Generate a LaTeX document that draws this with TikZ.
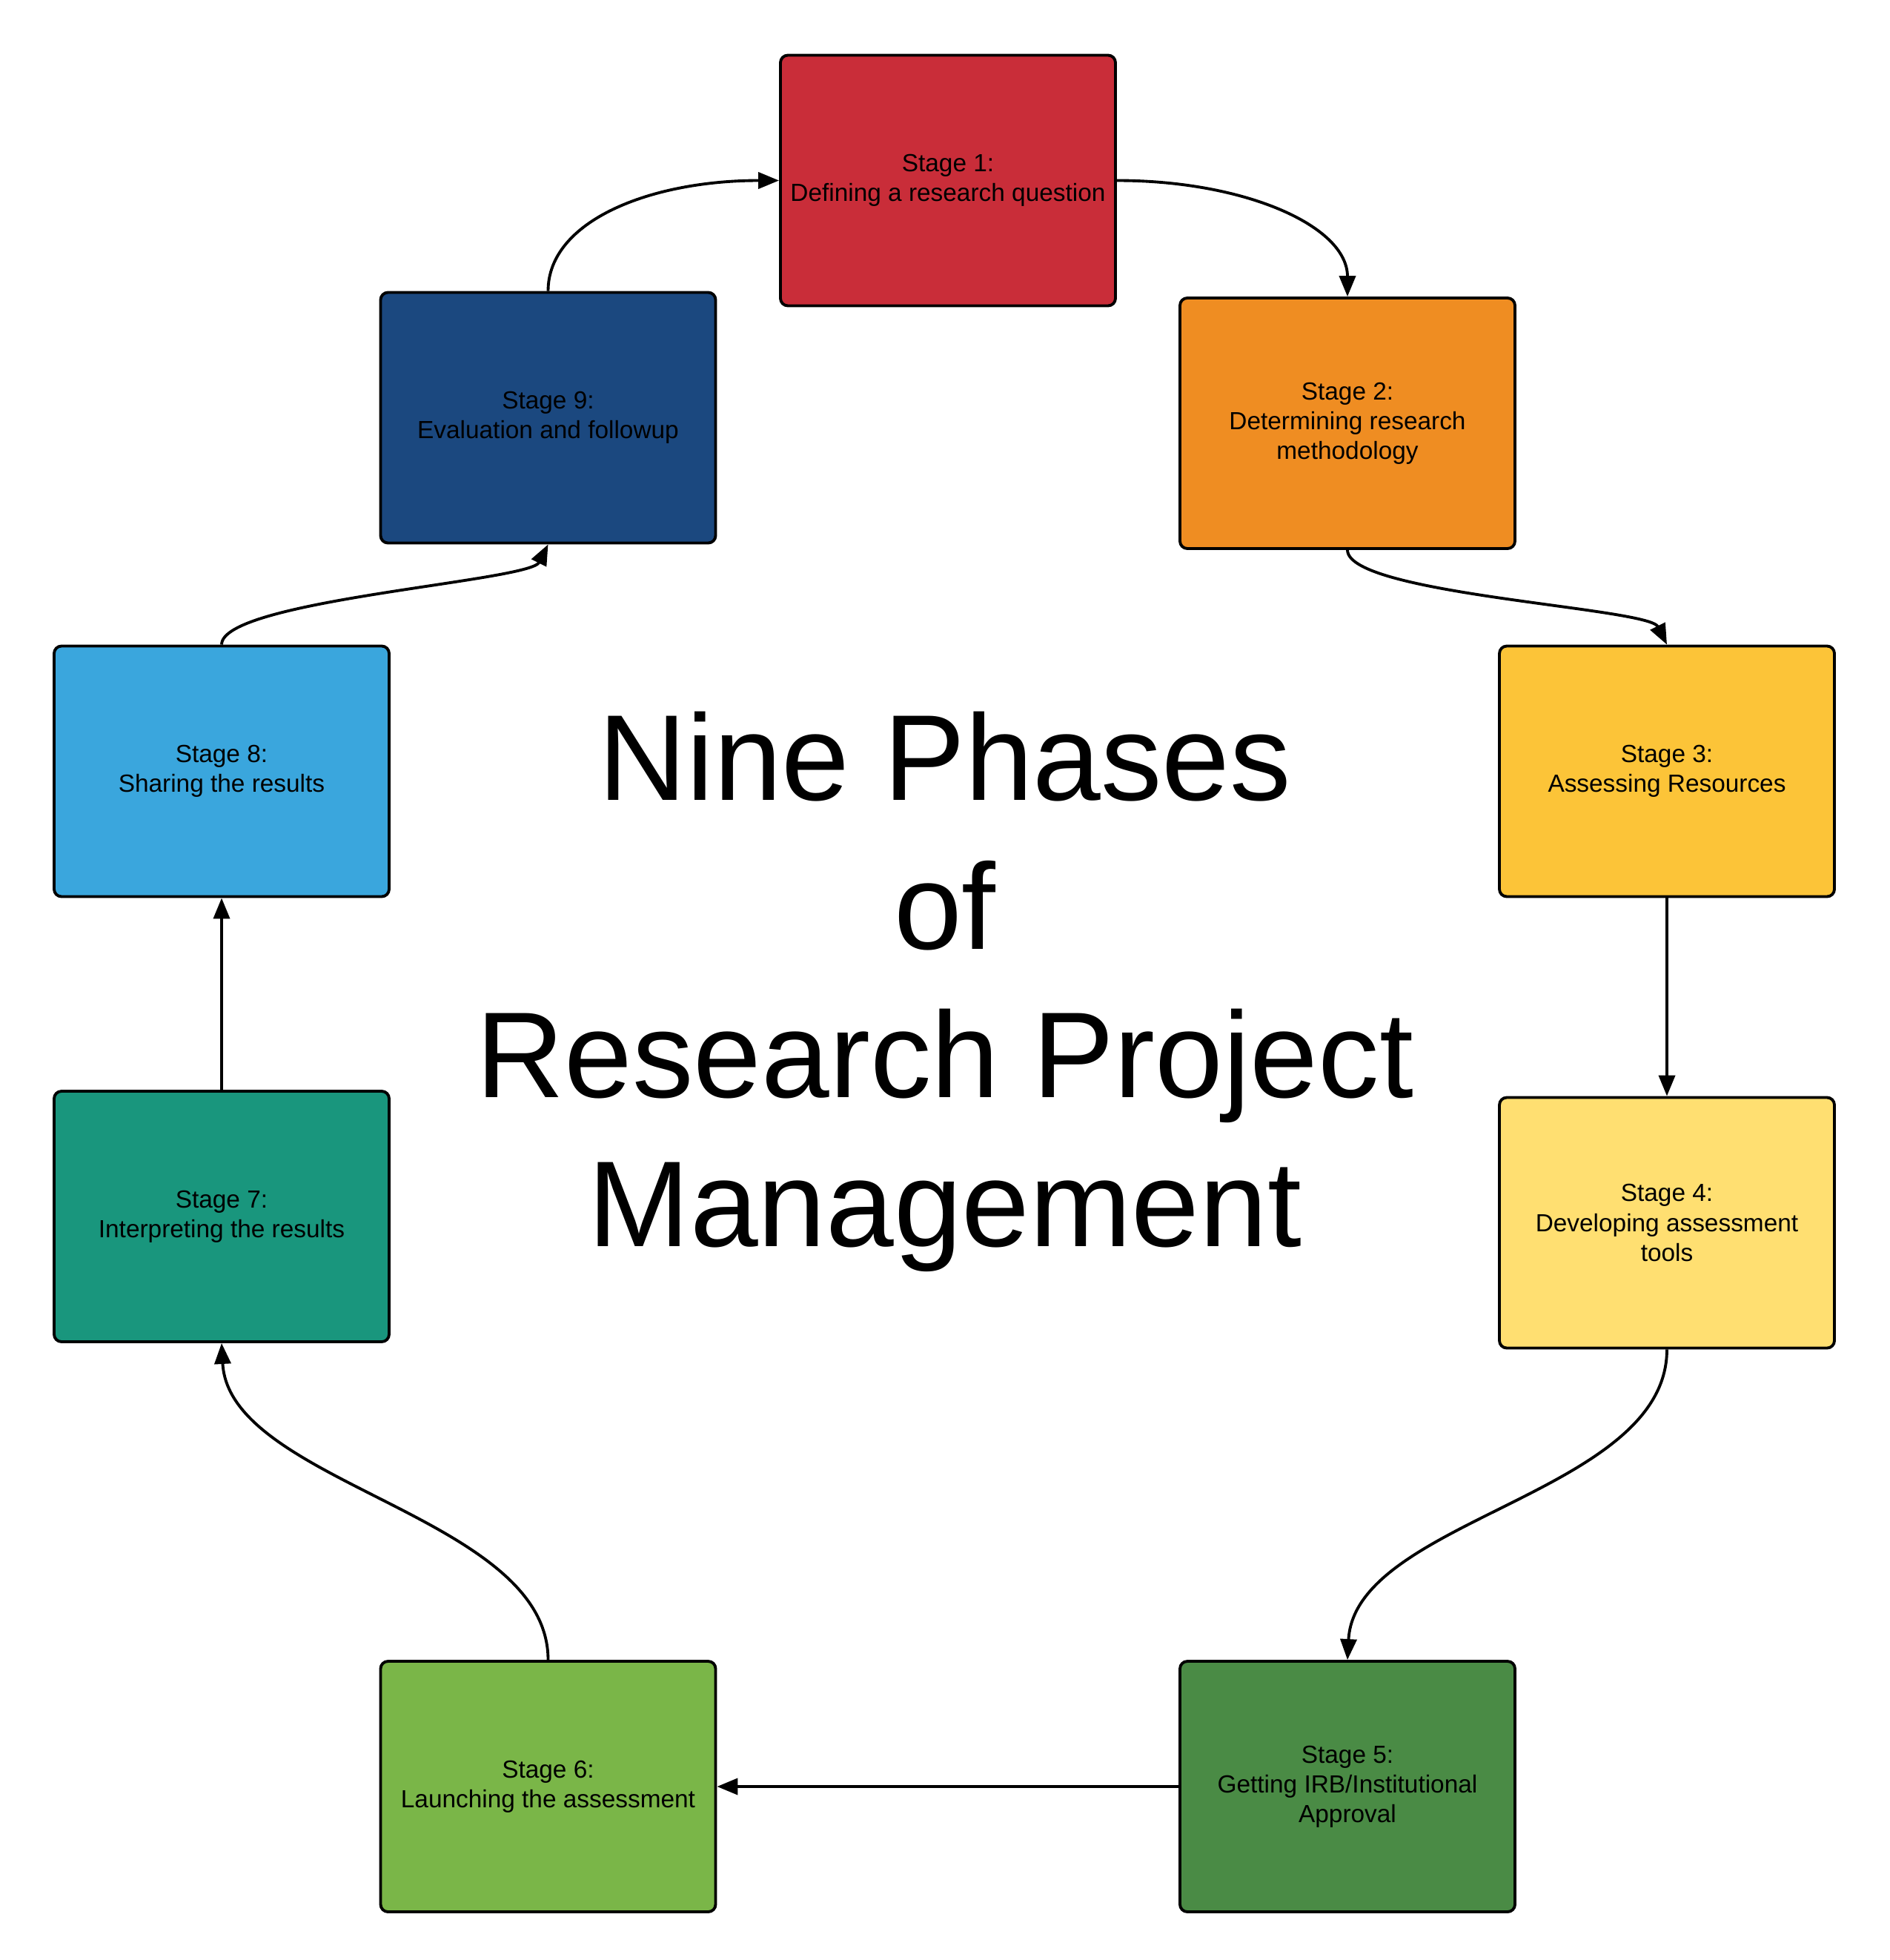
\documentclass[tikz,border=0pt]{standalone}
\usepackage{fontspec}
\setmainfont{Liberation Sans}
\usetikzlibrary{arrows.meta}

\definecolor{stred}{HTML}{C92D39}
\definecolor{storange}{HTML}{EF8D22}
\definecolor{styellow}{HTML}{FCC438}
\definecolor{stlightyellow}{HTML}{FFDF71}
\definecolor{stgreen}{HTML}{4A8B45}
\definecolor{stlightgreen}{HTML}{7AB648}
\definecolor{stteal}{HTML}{19967D}
\definecolor{stlightblue}{HTML}{3AA6DD}
\definecolor{stblue}{HTML}{1B487F}

\begin{document}
\begin{tikzpicture}[font=\fontsize{9.5}{11.4}\selectfont,
  bx/.style={draw,line width=1.1pt,rounded corners=1mm,align=center,minimum width=4.52cm,minimum height=3.38cm,inner sep=0pt},
  arr/.style={-{Triangle[length=2.8mm,width=2.2mm]},line width=1.1pt}]
  \useasboundingbox (0,0) rectangle (25.5,-26.44);
  \node[bx,fill=stred](s1) at (12.79,-2.435){Stage 1:\\Defining a research question};
  \node[bx,fill=storange](s2) at (18.18,-5.71){Stage 2:\\Determining research\\methodology};
  \node[bx,fill=styellow](s3) at (22.49,-10.405){Stage 3:\\Assessing Resources};
  \node[bx,fill=stlightyellow](s4) at (22.49,-16.495){Stage 4:\\Developing assessment\\tools};
  \node[bx,fill=stgreen](s5) at (18.18,-24.10){Stage 5:\\Getting IRB/Institutional\\Approval};
  \node[bx,fill=stlightgreen](s6) at (7.395,-24.10){Stage 6:\\Launching the assessment};
  \node[bx,fill=stteal](s7) at (2.99,-16.41){Stage 7:\\Interpreting the results};
  \node[bx,fill=stlightblue](s8) at (2.99,-10.405){Stage 8:\\Sharing the results};
  \node[bx,fill=stblue](s9) at (7.395,-5.635){Stage 9:\\Evaluation and followup};
  \node[align=center,font=\fontsize{46.9}{57.1}\selectfont](title) at (12.75,-13.38){Nine Phases\\of\\Research Project\\Management};
  \draw[arr](s1.east) .. controls +(1.73,0) and +(0,0.95) .. (s2.north);
  \draw[arr](s2.south) .. controls +(0,-0.6) and +(-0.25,0.5) .. (s3.north);
  \draw[arr](s3)--(s4);
  \draw[arr](s4.south) .. controls +(0,-1.95) and +(0.1,1.9) .. (s5.north);
  \draw[arr](s5)--(s6);
  \draw[arr](s6.north) .. controls +(0,1.95) and +(0.1,-1.9) .. (s7.south);
  \draw[arr](s7)--(s8);
  \draw[arr](s8.north) .. controls +(0,0.6) and +(-0.25,-0.5) .. (s9.south);
  \draw[arr](s9.north) .. controls +(0,0.95) and +(-1.73,0) .. (s1.west);
\end{tikzpicture}
\end{document}
